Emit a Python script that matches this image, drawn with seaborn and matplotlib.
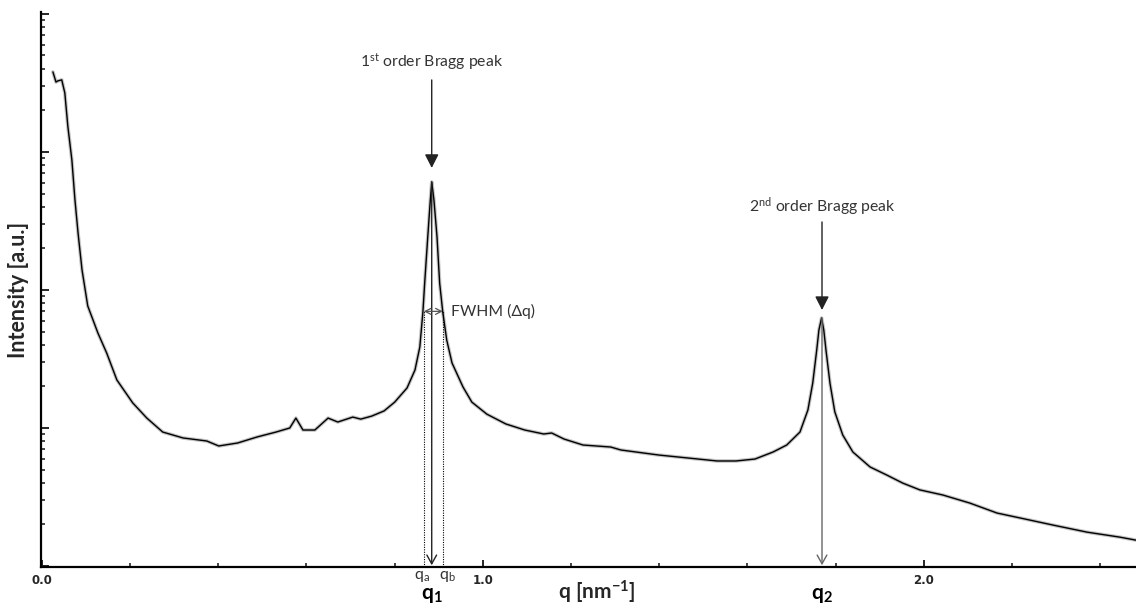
import numpy as np
import pandas as pd
import matplotlib
matplotlib.use("Agg")
import matplotlib.pyplot as plt
import matplotlib.transforms as mtransforms
from matplotlib.ticker import LogLocator, NullFormatter, MultipleLocator
import seaborn as sns

# ---- data (q in nm^-1, intensity in arbitrary units) ----
q = [0.025, 0.032, 0.036, 0.045, 0.052, 0.059, 0.068, 0.075, 0.082, 0.091,
     0.104, 0.127, 0.147, 0.170, 0.206, 0.238, 0.274, 0.320, 0.374, 0.401,
     0.444, 0.488, 0.531, 0.562, 0.576, 0.592, 0.619, 0.649, 0.671, 0.705,
     0.723, 0.748, 0.776, 0.800, 0.828, 0.846, 0.857, 0.864, 0.868, 0.875,
     0.880, 0.884, 0.889, 0.896, 0.902, 0.909, 0.918, 0.930, 0.955, 0.975,
     1.009, 1.052, 1.095, 1.138, 1.156, 1.184, 1.227, 1.290, 1.313, 1.399,
     1.488, 1.531, 1.574, 1.617, 1.658, 1.689, 1.719, 1.737, 1.748, 1.757,
     1.762, 1.768, 1.773, 1.778, 1.787, 1.798, 1.816, 1.839, 1.878, 1.916,
     1.952, 1.991, 2.043, 2.104, 2.166, 2.218, 2.293, 2.370, 2.444, 2.481]
intensity = [3800, 3210, 3270, 3330, 2680, 1520, 875, 449, 259, 140,
             76.6, 48.8, 34.9, 22.3, 15.2, 11.8, 9.35, 8.47, 8.05, 7.41,
             7.79, 8.61, 9.35, 10.0, 11.8, 9.67, 9.67, 11.8, 11.05, 12.0,
             11.6, 12.2, 13.3, 15.4, 19.5, 26.3, 38.6, 69.3, 112, 242,
             413, 606, 449, 242, 112, 69.3, 43.4, 29.6, 19.8, 15.4,
             12.6, 10.7, 9.67, 9.05, 9.2, 8.32, 7.53, 7.28, 6.93, 6.37,
             5.96, 5.77, 5.77, 5.96, 6.70, 7.53, 9.35, 13.5, 21.2, 36.7,
             51.3, 62.7, 51.3, 36.7, 21.2, 13.1, 8.90, 6.70, 5.22, 4.56,
             3.99, 3.56, 3.27, 2.86, 2.42, 2.23, 1.98, 1.76, 1.62, 1.54]

x_ticks = [0.0, 1.0, 2.0]
x_tick_labels = ["0.0", "1.0", "2.0"]
qa, qb = 0.866, 0.909          # FWHM edges
fwhm_level = 70.0              # intensity at which the FWHM bar is drawn
arrow1_from, arrow1_to = 3325, 766
arrow2_from, arrow2_to = 311, 71.6
label1_y, label2_y = 4500, 400

df = pd.DataFrame({"q": q, "I": intensity})

# ---- style ----
sns.set_style("ticks")
plt.rcParams["font.family"] = ["Lato", "DejaVu Sans"]
plt.rcParams["mathtext.fontset"] = "custom"
plt.rcParams["mathtext.rm"] = "Lato"
plt.rcParams["mathtext.it"] = "Lato:italic"
plt.rcParams["mathtext.bf"] = "Lato:bold"

fig = plt.figure(figsize=(11.36, 6.06), dpi=100)
ax = fig.add_axes([41 / 1136, 39 / 606, 1095 / 1136, 555 / 606])

sns.lineplot(data=df, x="q", y="I", ax=ax, color="#c4c4c4", linewidth=2.6,
             estimator=None, sort=False, legend=False)
sns.lineplot(data=df, x="q", y="I", ax=ax, color="black", linewidth=1.0,
             estimator=None, sort=False, legend=False)

ax.set_yscale("log")
ax.set_xlim(-0.002, 2.481)
ax.set_ylim(10 ** -0.007, 10 ** 4.014)

for s in ["top", "right"]:
    ax.spines[s].set_visible(False)
for s in ["left", "bottom"]:
    ax.spines[s].set_linewidth(1.6)
    ax.spines[s].set_color("black")

ax.set_xticks(x_ticks)
ax.set_xticklabels(x_tick_labels, fontsize=8.5, fontweight="bold", family="DejaVu Sans")
ax.xaxis.set_minor_locator(MultipleLocator(0.2))
ax.tick_params(axis="x", which="major", direction="in", length=5, width=1.4, pad=5)
ax.tick_params(axis="x", which="minor", direction="in", length=3, width=1.2)
ax.yaxis.set_major_locator(LogLocator(base=10, numticks=10))
ax.yaxis.set_minor_locator(LogLocator(base=10, subs=np.arange(2, 10), numticks=20))
ax.yaxis.set_major_formatter(NullFormatter())
ax.yaxis.set_minor_formatter(NullFormatter())
ax.tick_params(axis="y", which="major", direction="in", length=6, width=1.4)
ax.tick_params(axis="y", which="minor", direction="in", length=3, width=1.2)

ax.set_xlabel("")
ax.text(0.508, -0.045, r"$\mathbf{q\ [nm^{-1}]}$", transform=ax.transAxes,
        ha="center", va="center", fontsize=15, clip_on=False)
ax.set_ylabel("Intensity [a.u.]", fontsize=15.5, fontweight="bold")
ax.yaxis.set_label_coords(-0.011, 0.5)

# ---- annotations ----
qarr = np.array(q)
iarr = np.array(intensity)
m1 = (qarr > 0.6) & (qarr < 1.2)
q1 = qarr[m1][np.argmax(iarr[m1])]
i1 = iarr[m1].max()
m2 = qarr > 1.5
q2 = qarr[m2][np.argmax(iarr[m2])]
i2 = iarr[m2].max()
ybot = ax.get_ylim()[0]
txtc = "#333333"

ax.annotate("", xy=(q1, arrow1_to), xytext=(q1, arrow1_from),
            arrowprops=dict(arrowstyle="-|>,head_length=0.55,head_width=0.28",
                            color="#222222", lw=1.0, mutation_scale=15,
                            shrinkA=0, shrinkB=0))
ax.text(q1, label1_y, r"1$^{\mathrm{st}}$ order Bragg peak", ha="center", va="center",
        fontsize=11.3, color=txtc)

ax.annotate("", xy=(q2 + 0.001, arrow2_to), xytext=(q2 + 0.001, arrow2_from),
            arrowprops=dict(arrowstyle="-|>,head_length=0.55,head_width=0.28",
                            color="#222222", lw=1.0, mutation_scale=15,
                            shrinkA=0, shrinkB=0))
ax.text(q2 + 0.001, label2_y, r"2$^{\mathrm{nd}}$ order Bragg peak", ha="center", va="center",
        fontsize=11.3, color=txtc)

# vertical lines to axis
ax.annotate("", xy=(q1, ybot * 1.03), xytext=(q1, i1),
            arrowprops=dict(arrowstyle="->,head_length=0.45,head_width=0.25",
                            color="#222222", lw=1.0, mutation_scale=14,
                            shrinkA=0, shrinkB=0))
ax.annotate("", xy=(q2 + 0.001, ybot * 1.03), xytext=(q2 + 0.001, i2),
            arrowprops=dict(arrowstyle="->,head_length=0.45,head_width=0.25",
                            color="#666666", lw=1.0, mutation_scale=14,
                            shrinkA=0, shrinkB=0))
ax.vlines([qa, qb], ybot, fwhm_level, colors="black", linestyles=(0, (1, 1.2)), lw=0.8)
ax.annotate("", xy=(qa, fwhm_level), xytext=(qb, fwhm_level),
            arrowprops=dict(arrowstyle="<->,head_length=0.35,head_width=0.18",
                            color="#555555", lw=0.9, mutation_scale=12,
                            shrinkA=0, shrinkB=0))
ax.text(qb + 0.018, fwhm_level, "FWHM (\u0394q)", ha="left", va="center",
        fontsize=11.3, color=txtc)

trans = mtransforms.blended_transform_factory(ax.transData, ax.transAxes)
ax.text(qa - 0.004, -0.018, r"q$_{\mathrm{a}}$", transform=trans, ha="center", va="center",
        fontsize=11.5, color=txtc, clip_on=False)
ax.text(qb + 0.010, -0.018, r"q$_{\mathrm{b}}$", transform=trans, ha="center", va="center",
        fontsize=11.5, color=txtc, clip_on=False)
ax.text(q1, -0.050, r"$\mathbf{q_1}$", transform=trans, ha="center", va="center",
        fontsize=15, color="black", clip_on=False)
ax.text(q2 + 0.001, -0.050, r"$\mathbf{q_2}$", transform=trans, ha="center", va="center",
        fontsize=15, color="black", clip_on=False)

fig.savefig("out.png", dpi=100)
